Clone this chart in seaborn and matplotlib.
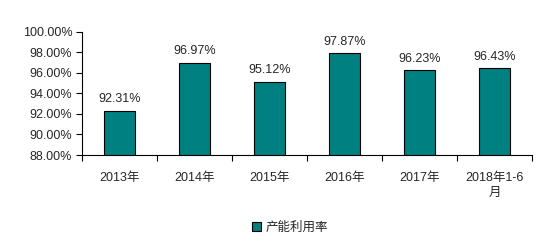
import matplotlib
matplotlib.use("Agg")
import matplotlib.pyplot as plt
import seaborn as sns
import pandas as pd
from matplotlib.ticker import FixedLocator, PercentFormatter

categories = ["2013年", "2014年", "2015年", "2016年", "2017年", "2018年1-6\n月"]
values = [92.31, 96.97, 95.12, 97.87, 96.23, 96.43]
series_name = "产能利用率"

sns.set_style("white")
plt.rcParams['font.family'] = ['Liberation Sans', 'Noto Sans CJK SC', 'DejaVu Sans']
plt.rcParams['font.size'] = 9

df = pd.DataFrame({"cat": categories, "val": values})

fig = plt.figure(figsize=(5.46, 2.46), dpi=100)
ax = fig.add_axes([82/546, 1-155/246, 450/546, (155-31.5)/246])
sns.barplot(data=df, x="cat", y="val", color="#008080", edgecolor="black",
            linewidth=0.8, width=0.42, ax=ax, label=series_name, saturation=1)
ax.set_ylim(88, 100)
ax.set_xlim(-0.5, len(categories) - 0.5)
ax.set_yticks([88, 90, 92, 94, 96, 98, 100])
ax.yaxis.set_major_formatter(PercentFormatter(decimals=2))
ax.set_xlabel("")
ax.set_ylabel("")
ax.xaxis.set_major_locator(FixedLocator([i - 0.5 for i in range(len(categories) + 1)]))
ax.set_xticklabels([])
ax.xaxis.set_minor_locator(FixedLocator(range(len(categories))))
ax.set_xticks(range(len(categories)), categories, minor=True)
for t in ax.get_xticklabels(minor=True):
    t.set_linespacing(1.4)
    t.set_verticalalignment("top")
ax.tick_params(axis="x", which="major", length=4, width=0.8, color="black", direction="out", bottom=True)
ax.tick_params(axis="x", which="minor", length=0, pad=12, labelsize=9)
ax.tick_params(axis="y", length=4, width=0.8, color="black", direction="out", left=True, labelsize=9, pad=3)
for s in ["top", "right"]:
    ax.spines[s].set_visible(False)
for s in ["left", "bottom"]:
    ax.spines[s].set_color("black")
    ax.spines[s].set_linewidth(0.8)

for i, v in enumerate(values):
    ax.text(i, v + 0.55, f"{v:.2f}%", ha="center", va="bottom", fontsize=9)

h, l = ax.get_legend_handles_labels()
if ax.get_legend():
    ax.get_legend().remove()
fig.legend(h, l, loc="center", bbox_to_anchor=(290/546, 1-228/246), frameon=False,
           handlelength=0.7, handleheight=0.7, handletextpad=0.4, fontsize=9)

fig.savefig("out.png", dpi=100)
